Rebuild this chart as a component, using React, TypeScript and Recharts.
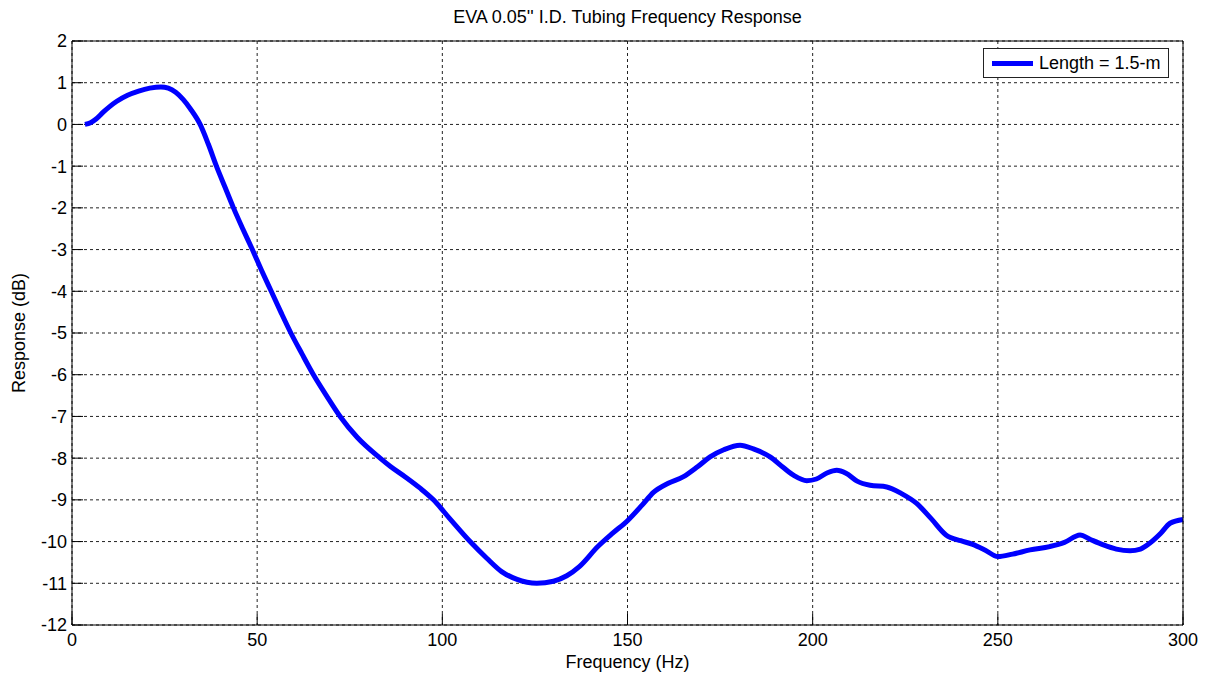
import React from "react";
import {
  LineChart,
  Line,
  XAxis,
  YAxis,
  CartesianGrid,
  Legend,
} from "recharts";

// frequency (Hz) and response (dB)
const freq = [
  3.5, 5, 6.5, 8.5, 12, 15, 18, 21, 24, 26, 28, 30, 32, 34.6, 36.8, 39, 41.3,
  43.6, 46.1, 48.7, 51.2, 53.8, 56.4, 59.1, 62.1, 65.2, 68.7, 72.4, 77, 83.2,
  86, 90, 94, 97.6, 102, 107.5, 112, 116, 120, 125.5, 130, 133.6, 137, 142, 146,
  150, 154, 157, 161, 165, 169, 172.3, 176, 180.4, 184, 188.5, 192, 195, 198.4,
  201, 204, 206.5, 209, 212, 215.5, 220, 224, 228, 232, 236, 240, 243, 246.5,
  250, 254, 258.7, 264, 268, 272.2, 275, 278.5, 282, 285.7, 288.5, 291, 294,
  296.5, 300,
];

const response = [
  0, 0.04, 0.13, 0.3, 0.55, 0.7, 0.8, 0.87, 0.9, 0.87, 0.77, 0.6, 0.37, 0,
  -0.47, -1.0, -1.5, -2.0, -2.5, -3.0, -3.5, -4.0, -4.5, -5.0, -5.5, -6.0, -6.5,
  -7.0, -7.5, -8.0, -8.2, -8.45, -8.72, -9.0, -9.45, -10.0, -10.4, -10.72,
  -10.9, -11.0, -10.95, -10.82, -10.6, -10.12, -9.8, -9.5, -9.12, -8.82, -8.6,
  -8.45, -8.2, -7.97, -7.8, -7.69, -7.78, -7.97, -8.22, -8.42, -8.54, -8.5,
  -8.35, -8.29, -8.36, -8.55, -8.65, -8.69, -8.85, -9.08, -9.45, -9.84, -9.98,
  -10.06, -10.2, -10.36, -10.3, -10.2, -10.12, -10.02, -9.84, -9.95, -10.08,
  -10.18, -10.22, -10.18, -10.04, -9.8, -9.56, -9.47,
];

const xTicks = [0, 50, 100, 150, 200, 250, 300];
const yTicks = [2, 1, 0, -1, -2, -3, -4, -5, -6, -7, -8, -9, -10, -11, -12];

const title = "EVA 0.05'' I.D. Tubing Frequency Response";
const seriesName = "Length = 1.5-m";

const data = freq.map((f, i) => ({ freq: f, resp: response[i] }));

const tickStyle = { fill: "#000", fontSize: 18 };

const LegendBox = () => (
  <div
    style={{
      display: "flex",
      alignItems: "center",
      height: 28,
      border: "1px solid #222",
      background: "#fff",
      padding: "0 7px 0 8px",
      fontSize: 18,
      color: "#000",
      whiteSpace: "nowrap",
    }}
  >
    <div style={{ width: 41, height: 5, background: "#0000ff", marginRight: 6 }} />
    <span>{seriesName}</span>
  </div>
);

export default function App() {
  return (
    <div
      style={{
        position: "absolute",
        left: 0,
        top: 0,
        width: 1209,
        height: 680,
        background: "#fff",
        fontFamily: "'Liberation Sans', Arial, sans-serif",
      }}
    >
      <div
        style={{
          position: "absolute",
          left: 72,
          top: 6,
          width: 1111,
          textAlign: "center",
          fontSize: 18,
          lineHeight: "22px",
          color: "#000",
        }}
      >
        {title}
      </div>
      <LineChart
        width={1209}
        height={680}
        data={data}
        margin={{ top: 40, right: 25, bottom: 0, left: 0 }}
      >
        <CartesianGrid
          xAxisId="b"
          yAxisId="l"
          stroke="#222"
          strokeDasharray="3 3"
        />
        <XAxis
          xAxisId="b"
          dataKey="freq"
          type="number"
          domain={[0, 300]}
          ticks={xTicks}
          interval={0}
          height={55}
          tickSize={-11}
          tickMargin={19}
          tick={tickStyle}
          axisLine={{ stroke: "#000" }}
          tickLine={{ stroke: "#000" }}
          label={{
            value: "Frequency (Hz)",
            position: "insideBottom",
            offset: 12,
            style: { fill: "#000", fontSize: 18 },
          }}
        />
        <XAxis
          xAxisId="t"
          orientation="top"
          type="number"
          domain={[0, 300]}
          ticks={xTicks}
          interval={0}
          height={1}
          tickSize={-11}
          tick={false}
          axisLine={{ stroke: "#000" }}
          tickLine={{ stroke: "#000" }}
        />
        <YAxis
          yAxisId="l"
          type="number"
          domain={[-12, 2]}
          ticks={yTicks}
          interval={0}
          width={72}
          tickSize={-11}
          tickMargin={16}
          tick={tickStyle}
          axisLine={{ stroke: "#000" }}
          tickLine={{ stroke: "#000" }}
          label={{
            value: "Response (dB)",
            angle: -90,
            position: "insideLeft",
            offset: 19,
            style: { fill: "#000", fontSize: 18, textAnchor: "middle" },
          }}
        />
        <YAxis
          yAxisId="r"
          orientation="right"
          type="number"
          domain={[-12, 2]}
          ticks={yTicks}
          interval={0}
          width={1}
          tickSize={-11}
          tick={false}
          axisLine={{ stroke: "#000" }}
          tickLine={{ stroke: "#000" }}
        />
        <Legend
          layout="horizontal"
          verticalAlign="middle"
          align="center"
          content={() => <LegendBox />}
          wrapperStyle={{ top: 48, left: 983, width: "auto" }}
        />
        <Line
          xAxisId="b"
          yAxisId="l"
          type="monotone"
          dataKey="resp"
          name={seriesName}
          stroke="#0000ff"
          strokeWidth={5}
          dot={false}
          activeDot={false}
          isAnimationActive={false}
        />
      </LineChart>
    </div>
  );
}
